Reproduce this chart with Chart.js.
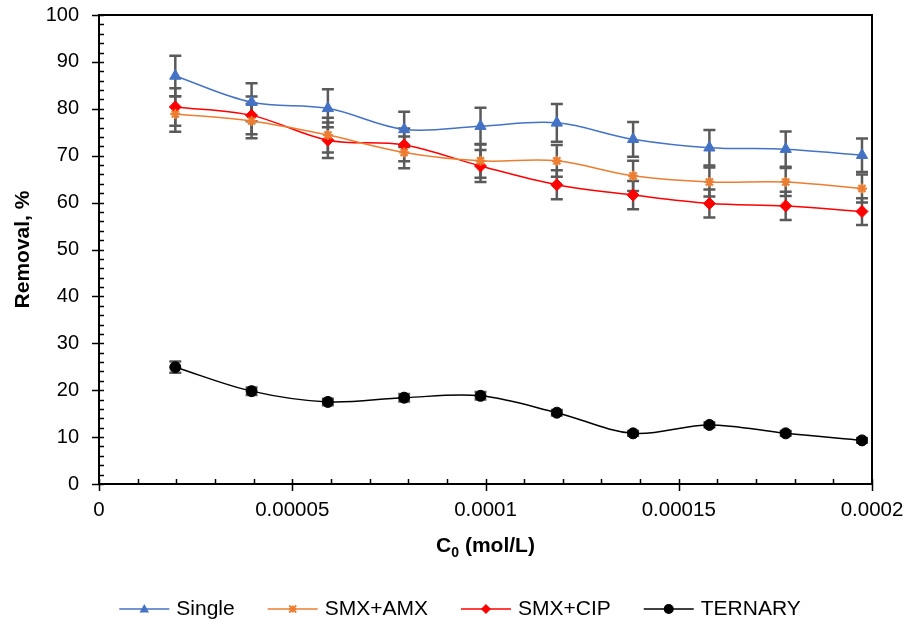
<!DOCTYPE html>
<html>
<head>
<meta charset="utf-8">
<script src="https://cdn.jsdelivr.net/npm/chart.js@4.4.1/dist/chart.umd.min.js"></script>
<style>
  html, body { margin: 0; padding: 0; background: #fff; }
  #wrap { width: 909px; height: 624px; }
</style>
</head>
<body>
<div id="wrap"><canvas id="removalChart"></canvas></div>
<script>
// initial concentration, mol/L (5..50 mg/L of SMX)
const concentrations = [1.974e-5, 3.948e-5, 5.922e-5, 7.896e-5, 9.871e-5,
                        1.1845e-4, 1.3819e-4, 1.5793e-4, 1.7767e-4, 1.9741e-4];

const seriesNames = ['Single', 'SMX+AMX', 'SMX+CIP', 'TERNARY'];

const singleRemoval  = [87.0, 81.4, 80.1, 75.6, 76.3, 77.0, 73.5, 71.7, 71.4, 70.1];
const amxRemoval     = [78.9, 77.4, 74.4, 70.7, 68.9, 68.9, 65.7, 64.4, 64.4, 63.0];
const cipRemoval     = [80.4, 78.6, 73.3, 72.3, 67.8, 63.8, 61.6, 59.8, 59.3, 58.1];
const ternaryRemoval = [24.9, 19.8, 17.5, 18.4, 18.8, 15.2, 10.8, 12.6, 10.8, 9.3];

// standard deviations (error bars)
const singleErr  = [4.3, 4.05, 4.05, 3.75, 3.9, 4.0, 3.7, 3.8, 3.75, 3.55];
const amxErr     = [3.8, 3.7, 3.7, 3.4, 3.6, 3.4, 3.2, 3.1, 3.0, 3.0];
const cipErr     = [4.0, 4.0, 3.8, 3.5, 3.4, 3.1, 3.0, 3.0, 3.0, 2.85];
const ternaryErr = [1.2, 0.8, 0.7, 0.8, 0.8, 0.6, 0.5, 0.5, 0.5, 0.5];

const xTicks = [0, 0.00005, 0.0001, 0.00015, 0.0002];
const yTicks = [0, 10, 20, 30, 40, 50, 60, 70, 80, 90, 100];

const FONT = '"Liberation Sans", Arial, sans-serif';

function toPoints(values) {
  return concentrations.map((x, i) => ({ x: x, y: values[i] }));
}

function series(label, values, errors, color, style, radius, extra) {
  return Object.assign({
    label: label,
    data: toPoints(values),
    errors: errors,
    borderColor: color,
    backgroundColor: color,
    borderWidth: 1.5,
    tension: 0.35,
    pointStyle: style,
    pointRadius: radius,
    pointHoverRadius: radius,
    pointBackgroundColor: color,
    pointBorderColor: color,
    pointBorderWidth: 1
  }, extra || {});
}

// small marker for the legend keys
function drawMarker(ctx, style, x, y, r, color) {
  ctx.save();
  ctx.fillStyle = color;
  ctx.strokeStyle = color;
  ctx.beginPath();
  if (style === 'triangle') {
    ctx.moveTo(x, y - r);
    ctx.lineTo(x + r * 0.95, y + r * 0.7);
    ctx.lineTo(x - r * 0.95, y + r * 0.7);
    ctx.closePath();
    ctx.fill();
  } else if (style === 'rectRot') {
    ctx.moveTo(x, y - r);
    ctx.lineTo(x + r, y);
    ctx.lineTo(x, y + r);
    ctx.lineTo(x - r, y);
    ctx.closePath();
    ctx.fill();
  } else if (style === 'star') {
    ctx.lineWidth = 1.8;
    ctx.moveTo(x - r, y - r); ctx.lineTo(x + r, y + r);
    ctx.moveTo(x + r, y - r); ctx.lineTo(x - r, y + r);
    ctx.moveTo(x, y - r); ctx.lineTo(x, y + r);
    ctx.moveTo(x - r, y); ctx.lineTo(x + r, y);
    ctx.stroke();
  } else {
    ctx.arc(x, y, r, 0, Math.PI * 2);
    ctx.fill();
  }
  ctx.restore();
}

const errorBars = {
  id: 'errorBars',
  beforeDatasetsDraw(chart) {
    const ctx = chart.ctx;
    const xs = chart.scales.x, ys = chart.scales.y;
    ctx.save();
    ctx.strokeStyle = '#5a5a5a';
    ctx.lineWidth = 2.5;
    chart.data.datasets.forEach(ds => {
      ds.data.forEach((p, i) => {
        const e = ds.errors[i];
        const px = xs.getPixelForValue(p.x);
        const top = ys.getPixelForValue(p.y + e);
        const bot = ys.getPixelForValue(p.y - e);
        ctx.beginPath();
        ctx.moveTo(px, top); ctx.lineTo(px, bot);
        ctx.moveTo(px - 6, top); ctx.lineTo(px + 6, top);
        ctx.moveTo(px - 6, bot); ctx.lineTo(px + 6, bot);
        ctx.stroke();
      });
    });
    ctx.restore();
  }
};

const frame = {
  id: 'frame',
  afterDraw(chart) {
    const ctx = chart.ctx;
    const a = chart.chartArea;
    const xs = chart.scales.x, ys = chart.scales.y;
    ctx.save();
    ctx.strokeStyle = '#000';
    ctx.lineWidth = 2;
    ctx.strokeRect(a.left, a.top, a.right - a.left, a.bottom - a.top);

    ctx.lineWidth = 1.5;
    ctx.beginPath();
    // y ticks: minor every 2 inside, major every 10 crossing
    for (let v = 0; v <= 100; v += 2) {
      const py = Math.round(ys.getPixelForValue(v)) + 0.5;
      if (v % 10 === 0) {
        ctx.moveTo(a.left - 7, py); ctx.lineTo(a.left + 5, py);
      } else {
        ctx.moveTo(a.left, py); ctx.lineTo(a.left + 5, py);
      }
    }
    // x ticks: minor every 0.00001 inside, major every 0.00005 crossing
    for (let k = 0; k <= 20; k++) {
      const px = Math.round(xs.getPixelForValue(k * 0.00001)) + 0.5;
      if (k % 5 === 0) {
        ctx.moveTo(px, a.bottom - 5); ctx.lineTo(px, a.bottom + 7);
      } else {
        ctx.moveTo(px, a.bottom - 5); ctx.lineTo(px, a.bottom);
      }
    }
    ctx.stroke();

    // axis titles
    ctx.fillStyle = '#000';
    ctx.font = 'bold 21px ' + FONT;
    ctx.textBaseline = 'alphabetic';
    ctx.textAlign = 'left';
    const cx = (a.left + a.right) / 2;
    const wC = ctx.measureText('C').width;
    const rest = ' (mol/L)';
    const wRest = ctx.measureText(rest).width;
    ctx.font = 'bold 14px ' + FONT;
    const wSub = ctx.measureText('0').width;
    const total = wC + wSub + wRest;
    let tx = cx - total / 2;
    ctx.font = 'bold 21px ' + FONT;
    ctx.fillText('C', tx, 552);
    ctx.font = 'bold 14px ' + FONT;
    ctx.fillText('0', tx + wC, 557);
    ctx.font = 'bold 21px ' + FONT;
    ctx.fillText(rest, tx + wC + wSub, 552);

    ctx.save();
    ctx.translate(23, (a.top + a.bottom) / 2);
    ctx.rotate(-Math.PI / 2);
    ctx.textAlign = 'center';
    ctx.textBaseline = 'middle';
    ctx.fillText('Removal, %', 0, 0);
    ctx.restore();

    // legend
    ctx.font = '21px ' + FONT;
    ctx.textBaseline = 'middle';
    ctx.textAlign = 'left';
    const lineLen = 50, gapText = 7, gapItem = 33, ly = 609;
    const widths = chart.data.datasets.map(ds => lineLen + gapText + ctx.measureText(ds.label).width);
    const full = widths.reduce((s, w) => s + w, 0) + gapItem * (widths.length - 1);
    let lx = 460 - full / 2;
    chart.data.datasets.forEach((ds, i) => {
      ctx.strokeStyle = ds.borderColor;
      ctx.lineWidth = 1.5;
      ctx.beginPath();
      ctx.moveTo(lx, ly); ctx.lineTo(lx + lineLen, ly);
      ctx.stroke();
      drawMarker(ctx, ds.pointStyle, lx + lineLen / 2, ly, ds.pointStyle === 'star' ? 3.5 : 5, ds.borderColor);
      ctx.fillStyle = '#000';
      ctx.fillText(ds.label, lx + lineLen + gapText, ly);
      lx += widths[i] + gapItem;
    });
    ctx.restore();
  }
};

new Chart(document.getElementById('removalChart'), {
  type: 'line',
  data: {
    datasets: [
      series(seriesNames[0], singleRemoval, singleErr, '#4472C4', 'triangle', 6.5),
      series(seriesNames[1], amxRemoval, amxErr, '#ED7D31', 'star', 5, { pointBorderWidth: 2.2 }),
      series(seriesNames[2], cipRemoval, cipErr, '#FF0000', 'rectRot', 6),
      series(seriesNames[3], ternaryRemoval, ternaryErr, '#000000', 'circle', 5.5)
    ]
  },
  options: {
    responsive: true,
    maintainAspectRatio: false,
    animation: false,
    layout: { padding: { left: 0, top: 15, right: 37, bottom: 0 } },
    plugins: {
      legend: { display: false },
      tooltip: { enabled: false }
    },
    scales: {
      x: {
        type: 'linear',
        min: 0,
        max: 0.0002,
        afterBuildTicks: s => { s.ticks = xTicks.map(v => ({ value: v })); },
        afterFit: s => { s.height = 140; s.paddingLeft = 0; s.paddingRight = 0; },
        grid: { display: false, drawTicks: true, tickLength: 8 },
        border: { display: false },
        ticks: {
          padding: 6,
          color: '#000',
          font: { family: FONT, size: 20.5 },
          maxRotation: 0,
          callback: v => String(+v.toPrecision(6))
        }
      },
      y: {
        min: 0,
        max: 100,
        afterBuildTicks: s => { s.ticks = yTicks.map(v => ({ value: v })); },
        afterFit: s => { s.width = 99; s.paddingTop = 0; s.paddingBottom = 0; },
        grid: { display: false, drawTicks: true, tickLength: 8 },
        border: { display: false },
        ticks: {
          padding: 12,
          color: '#000',
          font: { family: FONT, size: 20 }
        }
      }
    }
  },
  plugins: [errorBars, frame]
});
</script>
</body>
</html>
